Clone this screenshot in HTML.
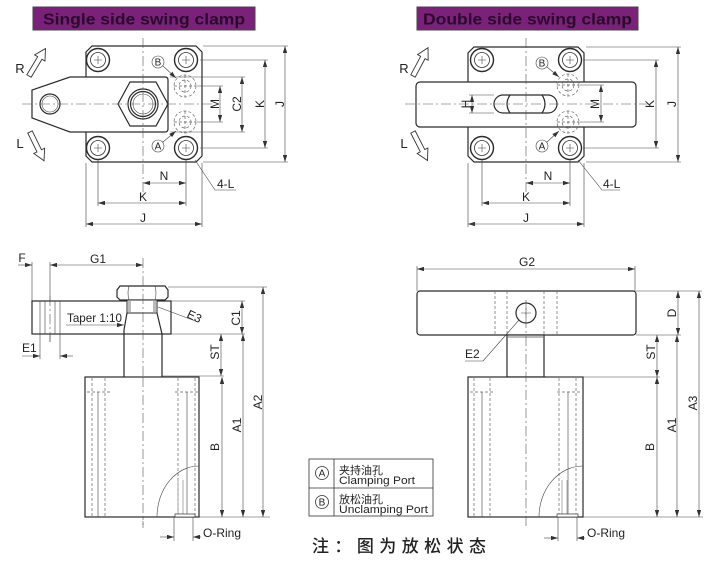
<!DOCTYPE html>
<html><head><meta charset="utf-8"><style>
html,body{margin:0;padding:0;background:#fff;}
svg{display:block;}
text{font-family:"Liberation Sans",Arial,sans-serif;fill:#222;}
.o{fill:none;stroke:#2a2a2a;stroke-width:1.2;}
.w{fill:#fff;stroke:#2a2a2a;stroke-width:1.2;}
.t{fill:none;stroke:#444;stroke-width:0.6;}
.g{fill:none;stroke:#999;stroke-width:0.8;}
.c{fill:none;stroke:#555;stroke-width:0.6;stroke-dasharray:10 3 2 3;}
.h{fill:none;stroke:#666;stroke-width:0.7;stroke-dasharray:3 2;}
.d{fill:none;stroke:#444;stroke-width:0.6;marker-start:url(#a);marker-end:url(#a);}
.e{fill:none;stroke:#444;stroke-width:0.6;marker-end:url(#a);}
.ar{fill:#fff;stroke:#333;stroke-width:0.9;}
.cjk{font-family:"Liberation Sans","Noto Sans CJK SC",sans-serif;}
</style></head><body>
<svg width="707" height="573" viewBox="0 0 707 573" font-size="12" xmlns="http://www.w3.org/2000/svg">
<defs>
<marker id="a" viewBox="0 0 8 5" refX="8" refY="2.5" markerWidth="7" markerHeight="4.4" markerUnits="userSpaceOnUse" orient="auto-start-reverse"><path d="M0,0 L8,2.5 L0,5 z" fill="#333"/></marker>
<g id="bolt"><circle r="11.5" fill="#fff" stroke="#2a2a2a" stroke-width="1.4"/><circle r="7.5" fill="none" stroke="#333" stroke-width="0.8"/><path d="M-4,0H4M0,-4V4" fill="none" stroke="#444" stroke-width="0.6"/></g>
<g id="port"><circle r="11" class="h"/><circle r="6" class="h"/><path d="M-11,0H11M0,-11V11" class="h"/></g>
<polygon id="arw" points="-2.5,0 -2.5,-21 -6,-21 0,-32 6,-21 2.5,-21 2.5,0"/>
</defs>

<!-- Banners -->
<rect x="33" y="7" width="222" height="23" fill="#7b2179" stroke="#444" stroke-width="1"/>
<text x="43" y="24.5" font-size="16" font-weight="bold" style="fill:#2a0a2a" textLength="202" lengthAdjust="spacingAndGlyphs">Single side swing clamp</text>
<rect x="417" y="7" width="221" height="23" fill="#7b2179" stroke="#444" stroke-width="1"/>
<text x="423" y="24.5" font-size="16" font-weight="bold" style="fill:#2a0a2a" textLength="209" lengthAdjust="spacingAndGlyphs">Double side swing clamp</text>

<!-- ============ TOP LEFT ============ -->
<polygon class="w" points="92,46 196,46 202,52 202,156 196,162 92,162 86,156 86,52"/>
<use href="#bolt" x="98" y="60"/><use href="#bolt" x="186" y="60"/>
<use href="#bolt" x="98" y="148"/><use href="#bolt" x="186" y="148"/>
<path class="w" d="M70,77 H165 Q168,77 168,80 V129 Q168,132 165,132 H70 L32,118 V90 Z"/>
<circle cx="50" cy="104" r="10" class="o"/><circle cx="50" cy="104" r="8" class="t"/>
<polygon class="w" points="118,104 130,82 156,82 168,104 156,126 130,126"/>
<circle cx="143" cy="104" r="15" class="o"/><circle cx="143" cy="104" r="12.5" class="o"/><circle cx="143" cy="104" r="10" class="t"/>
<use href="#port" x="185" y="86"/><use href="#port" x="185" y="122"/>
<path class="c" d="M143,38V192M22,104H214"/>
<circle cx="158" cy="62" r="6" class="t" stroke-width="0.8"/><text x="158" y="65.5" text-anchor="middle" font-size="10">B</text>
<circle cx="158" cy="146" r="6" class="t" stroke-width="0.8"/><text x="158" y="149.5" text-anchor="middle" font-size="10">A</text>
<path class="e" d="M163,66L176,78"/><path class="e" d="M163,142L176,131"/>
<use href="#arw" class="ar" transform="translate(29,76) rotate(31)"/>
<use href="#arw" class="ar" transform="translate(30,132) rotate(154)"/>
<text x="20" y="73" text-anchor="middle" font-size="13">R</text>
<text x="20" y="148" text-anchor="middle" font-size="13">L</text>
<path class="t" d="M197,86H223M197,122H223M170,77H245M170,132H245M200,60H268M200,148H268M203,46H288M203,162H288"/>
<path class="d" d="M220,86V122"/><path class="d" d="M242,77V132"/><path class="d" d="M265,60V148"/><path class="d" d="M285,46V162"/>
<text transform="translate(215,104) rotate(-90)" text-anchor="middle" dy="4">M</text>
<text transform="translate(237,104) rotate(-90)" text-anchor="middle" dy="4">C2</text>
<text transform="translate(260,104) rotate(-90)" text-anchor="middle" dy="4">K</text>
<text transform="translate(280,104) rotate(-90)" text-anchor="middle" dy="4">J</text>
<path class="t" d="M186,160V206M98,160V206M86,163V227M202,163V227"/>
<path class="d" d="M143,183H186"/><path class="d" d="M98,203H186"/><path class="d" d="M86,224H202"/>
<text x="164" y="180" text-anchor="middle">N</text>
<text x="143" y="201" text-anchor="middle">K</text>
<text x="143" y="222" text-anchor="middle">J</text>
<path class="t" d="M195,160L215,190H236"/>
<text x="217" y="188">4-L</text>

<!-- ============ TOP RIGHT ============ -->
<polygon class="w" points="474,47 578,47 584,53 584,156 578,162 474,162 468,156 468,53"/>
<use href="#bolt" x="482" y="60"/><use href="#bolt" x="570" y="60"/>
<use href="#bolt" x="482" y="148"/><use href="#bolt" x="570" y="148"/>
<rect x="416" y="82" width="220" height="45" rx="4" class="w"/>
<rect x="494" y="95" width="63" height="18" rx="9" class="o"/>
<path class="o" d="M510,95 Q504,104 510,113M542,95 Q548,104 542,113" stroke-width="0.9"/>
<use href="#port" x="568" y="85"/><use href="#port" x="568" y="122"/>
<path class="c" d="M526,38V192M405,104H650"/>
<circle cx="542" cy="63" r="6" class="t" stroke-width="0.8"/><text x="542" y="66.5" text-anchor="middle" font-size="10">B</text>
<circle cx="542" cy="146" r="6" class="t" stroke-width="0.8"/><text x="542" y="149.5" text-anchor="middle" font-size="10">A</text>
<path class="e" d="M547,67L559,77"/><path class="e" d="M547,142L559,131"/>
<use href="#arw" class="ar" transform="translate(413,76) rotate(28)"/>
<use href="#arw" class="ar" transform="translate(413,132) rotate(153)"/>
<text x="404" y="73" text-anchor="middle" font-size="13">R</text>
<text x="404" y="148" text-anchor="middle" font-size="13">L</text>
<path class="t" d="M469,95H494M469,113H494"/><path class="d" d="M472,95V113"/>
<text transform="translate(466,104) rotate(-90)" text-anchor="middle" dy="4">H</text>
<path class="t" d="M580,85H604M580,122H604M583,60H659M583,148H659M586,47H681M586,162H681"/>
<path class="d" d="M601,85V122"/><path class="d" d="M656,60V148"/><path class="d" d="M678,47V162"/>
<text transform="translate(595,104) rotate(-90)" text-anchor="middle" dy="4">M</text>
<text transform="translate(650,104) rotate(-90)" text-anchor="middle" dy="4">K</text>
<text transform="translate(672,104) rotate(-90)" text-anchor="middle" dy="4">J</text>
<path class="t" d="M570,160V206M482,160V206M468,163V227M584,163V227"/>
<path class="d" d="M526,183H570"/><path class="d" d="M482,203H570"/><path class="d" d="M468,224H584"/>
<text x="548" y="180" text-anchor="middle">N</text>
<text x="526" y="201" text-anchor="middle">K</text>
<text x="526" y="222" text-anchor="middle">J</text>
<path class="t" d="M578,160L602,190H620"/>
<text x="603" y="188">4-L</text>

<!-- ============ BOTTOM LEFT ============ -->
<path class="t" d="M32,262V302M50,262V342"/>
<path class="e" d="M18,265H32"/><path class="d" d="M50,265H143"/>
<text x="22" y="262" text-anchor="middle">F</text>
<text x="98" y="263" text-anchor="middle">G1</text>
<rect x="32" y="301" width="139" height="33" class="w"/>
<path class="t" d="M40,301V334M60,301V334M45,301V334M55,301V334"/>
<path class="c" d="M50,296V342"/>
<polygon class="w" points="120,286 165,286 168,290 168,297 165,300 120,300 117,297 117,290"/>
<path class="t" d="M129,286Q127,293 129,300M155,286Q157,293 155,300"/>
<rect x="127" y="300" width="30" height="13" fill="#fff" stroke="#2a2a2a" stroke-width="1"/>
<rect x="128" y="301" width="3" height="11" fill="#bbb"/><rect x="153" y="301" width="3" height="11" fill="#bbb"/>
<path class="o" d="M127,313L124,330V377M157,313L162,334V377"/>
<path class="c" d="M143,258V528"/>
<text x="67" y="322" textLength="55" lengthAdjust="spacingAndGlyphs">Taper 1:10</text>
<path class="e" d="M66,325H124"/>
<path class="t" d="M158,307L198,322"/>
<text transform="translate(186,317) rotate(25)">E3</text>
<path class="t" d="M40,334V359M60,334V359"/>
<path class="e" d="M22,356H40"/><path class="e" d="M73,356H60"/>
<text x="22" y="352">E1</text>
<rect x="85" y="377" width="114" height="140" class="w"/>
<path class="h" d="M87,392H112M175,392H198M92,378V517M105,378V517M178,378V517M195,378V517"/>
<path class="t" d="M98,392V517M187,392V517"/>
<path class="t" d="M157,517 A42,51 0 0 1 199,466"/>
<path class="g" d="M178,480V514M183,480V514"/>
<rect x="175" y="514" width="20" height="3" fill="#fff" stroke="#333" stroke-width="0.7"/>
<path class="c" d="M143,377V528"/>
<path class="t" d="M171,301H245M171,334H245M168,287H267M162,376H224M199,517H270"/>
<path class="d" d="M242,301V334"/><path class="d" d="M221,334V376"/>
<path class="d" d="M263,287V517"/><path class="d" d="M243,334V517"/><path class="d" d="M222,377V517"/>
<text transform="translate(236,318) rotate(-90)" text-anchor="middle" dy="4">C1</text>
<text transform="translate(215,352) rotate(-90)" text-anchor="middle" dy="4">ST</text>
<text transform="translate(258,402) rotate(-90)" text-anchor="middle" dy="4">A2</text>
<text transform="translate(237,425) rotate(-90)" text-anchor="middle" dy="4">A1</text>
<text transform="translate(215,447) rotate(-90)" text-anchor="middle" dy="4">B</text>
<path class="t" d="M174,517V541M193,517V541"/>
<path class="e" d="M160,537H174"/><path class="e" d="M201,537H193"/>
<text x="203" y="537">O-Ring</text>

<!-- ============ BOTTOM RIGHT ============ -->
<path class="t" d="M417,266V291M635,266V291"/>
<path class="d" d="M417,269H635"/>
<text x="527" y="266" text-anchor="middle">G2</text>
<rect x="417" y="291" width="219" height="44" rx="3" class="w"/>
<path class="h" d="M495,291V335M507,291V335M544,291V335M557,291V335"/>
<circle cx="526" cy="313" r="10" class="o" stroke-width="1"/>
<path class="t" d="M521,313H531M526,308V318"/>
<path class="t" d="M465,361H483L519,320"/>
<text x="465" y="358">E2</text>
<rect x="507" y="335" width="37" height="42" class="w"/>
<rect x="508" y="336" width="35" height="2" fill="#bbb"/>
<rect x="468" y="377" width="115" height="140" class="w"/>
<path class="h" d="M470,392H495M557,392H582M474,378V517M490,378V517M559,378V517M576,378V517"/>
<path class="t" d="M482,392V517M568,392V517"/>
<path class="t" d="M539,517 A44,51 0 0 1 583,466"/>
<path class="g" d="M562,480V514M567,480V514"/>
<rect x="557" y="514" width="21" height="3" fill="#fff" stroke="#333" stroke-width="0.7"/>
<path class="c" d="M526,300V528"/>
<path class="t" d="M636,291H702M636,335H681M547,377H660M583,517H703"/>
<path class="d" d="M678,291V335"/><path class="d" d="M657,335V377"/>
<path class="d" d="M699,291V517"/><path class="d" d="M677,335V517"/><path class="d" d="M657,377V517"/>
<text transform="translate(672,313) rotate(-90)" text-anchor="middle" dy="4">D</text>
<text transform="translate(651,352) rotate(-90)" text-anchor="middle" dy="4">ST</text>
<text transform="translate(693,403) rotate(-90)" text-anchor="middle" dy="4">A3</text>
<text transform="translate(672,425) rotate(-90)" text-anchor="middle" dy="4">A1</text>
<text transform="translate(650,447) rotate(-90)" text-anchor="middle" dy="4">B</text>
<path class="t" d="M558,517V541M577,517V541"/>
<path class="e" d="M544,538H558"/><path class="e" d="M585,538H577"/>
<text x="587" y="537">O-Ring</text>

<!-- ============ LEGEND ============ -->
<rect x="309" y="459" width="124" height="57" fill="#fff" stroke="#333" stroke-width="0.8"/>
<path d="M309,488H433M334,459V516" stroke="#333" stroke-width="0.8"/>
<circle cx="322" cy="473" r="6.5" fill="none" stroke="#333" stroke-width="0.8"/>
<text x="322" y="476.5" text-anchor="middle" font-size="10">A</text>
<circle cx="322" cy="502" r="6.5" fill="none" stroke="#333" stroke-width="0.8"/>
<text x="322" y="505.5" text-anchor="middle" font-size="10">B</text>
<text x="339" y="474" font-size="11" class="cjk">夹持油孔</text>
<text x="339" y="484" font-size="11" textLength="76" lengthAdjust="spacingAndGlyphs">Clamping Port</text>
<text x="339" y="503" font-size="11" class="cjk">放松油孔</text>
<text x="339" y="513" font-size="11" textLength="89" lengthAdjust="spacingAndGlyphs">Unclamping Port</text>

<!-- Footer -->
<text x="312" y="552" font-size="17" textLength="174" class="cjk" font-weight="500">注：图为放松状态</text>
</svg>
</body></html>
